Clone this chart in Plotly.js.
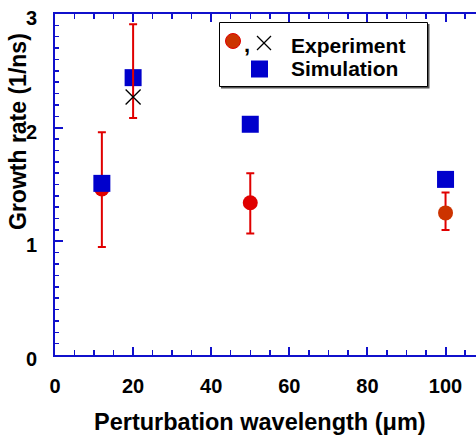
<!DOCTYPE html>
<html>
<head>
<meta charset="utf-8">
<script src="https://cdn.plot.ly/plotly-3.0.1.min.js"></script>
<style>html,body{margin:0;padding:0;background:#fff;}#chart{width:476px;height:444px;}</style>
</head>
<body>
<div id="chart"></div>
<script>
// Experiment (circles)
const expX = [12, 50, 100];
const expY = [1.46, 1.34, 1.25];
const expErrPlus = [0.50, 0.26, 0.18];
const expErrMinus = [0.51, 0.27, 0.15];
const expColors = ['#e00000', '#e00000', '#cc3300'];
// Experiment (cross)
const crossX = [20];
const crossY = [2.27];
const crossErrPlus = [0.64];
const crossErrMinus = [0.185];
// Simulation (squares)
const simX = [12, 20, 50, 100];
const simY = [1.51, 2.44, 2.03, 1.545];
// Axis ticks
const xTicks = [0, 20, 40, 60, 80, 100];
const yTicks = [0, 1, 2, 3];

const axisColor = '#1010cc';
const FONT = 'Liberation Sans, Arial, sans-serif';

const L = 55, T = 14, W = 476, H = 444, B = 89;
const plotW = W - L, plotH = H - T - B;
const px = v => (v - L) / plotW;
const py = v => (H - B - v) / plotH;

const traces = [
  {
    x: expX, y: expY, type: 'scatter', mode: 'markers', showlegend: false,
    marker: {symbol: 'circle', size: 15, color: expColors, line: {width: 0}},
    error_y: {type: 'data', symmetric: false, array: expErrPlus, arrayminus: expErrMinus,
      color: '#e00000', thickness: 2, width: 4}
  },
  {
    x: simX, y: simY, type: 'scatter', mode: 'markers', showlegend: false,
    marker: {symbol: 'square', size: 17, color: '#0000cc', line: {width: 0}}
  },
  {
    x: crossX, y: crossY, type: 'scatter', mode: 'markers', showlegend: false,
    marker: {symbol: 'x-thin', size: 15, color: '#000', line: {width: 1.3, color: '#000'}},
    error_y: {type: 'data', symmetric: false, array: crossErrPlus, arrayminus: crossErrMinus,
      color: '#e00000', thickness: 2, width: 4}
  }
];

const shapes = [
  // legend shadow + box
  {type: 'rect', xref: 'paper', yref: 'paper', x0: px(221), x1: px(429.5), y0: py(88.5), y1: py(24),
    fillcolor: '#555', line: {width: 0}},
  {type: 'rect', xref: 'paper', yref: 'paper', x0: px(219.5), x1: px(427.5), y0: py(86.5), y1: py(22.5),
    fillcolor: '#fff', line: {color: '#000', width: 1}},
  // legend circle
  {type: 'circle', xref: 'paper', yref: 'paper', x0: px(225.5), x1: px(240.5), y0: py(48.5), y1: py(33.5),
    fillcolor: '#cc3300', line: {color: '#e00000', width: 1}},
  // legend X
  {type: 'line', xref: 'paper', yref: 'paper', x0: px(257), x1: px(271), y0: py(36), y1: py(50),
    line: {color: '#000', width: 1.3}},
  {type: 'line', xref: 'paper', yref: 'paper', x0: px(257), x1: px(271), y0: py(50), y1: py(36),
    line: {color: '#000', width: 1.3}},
  // legend square
  {type: 'rect', xref: 'paper', yref: 'paper', x0: px(251), x1: px(268), y0: py(77.5), y1: py(60.5),
    fillcolor: '#0000cc', line: {width: 0}}
];

const annotations = [
  {text: '<b>,</b>', xref: 'paper', yref: 'paper', x: px(247), y: py(44), xanchor: 'center', yanchor: 'middle',
    showarrow: false, font: {family: FONT, size: 22, color: '#000'}},
  {text: '<b>Experiment</b>', xref: 'paper', yref: 'paper', x: px(289), y: py(45), xanchor: 'left', yanchor: 'middle',
    showarrow: false, font: {family: FONT, size: 21, color: '#000'}},
  {text: '<b>Simulation</b>', xref: 'paper', yref: 'paper', x: px(289), y: py(69), xanchor: 'left', yanchor: 'middle',
    showarrow: false, font: {family: FONT, size: 21, color: '#000'}},
  {text: '<b>Perturbation wavelength (μm)</b>', xref: 'paper', yref: 'paper', x: px(260), y: py(422),
    xanchor: 'center', yanchor: 'middle', showarrow: false, font: {family: FONT, size: 23.5, color: '#000'}},
  {text: '<b>Growth rate (1/ns)</b>', xref: 'paper', yref: 'paper', x: px(18), y: py(132), textangle: -90,
    xanchor: 'center', yanchor: 'middle', showarrow: false, font: {family: FONT, size: 23, color: '#000'}}
];

const layout = {
  width: W, height: H,
  margin: {l: L, r: 0, t: T, b: B, pad: 0},
  paper_bgcolor: '#fff', plot_bgcolor: '#fff',
  showlegend: false,
  font: {family: FONT, color: '#000'},
  xaxis: {
    range: [0, 107.8], autorange: false, fixedrange: true,
    tickvals: xTicks, ticktext: xTicks.map(v => '<b>' + v + '</b>'),
    ticks: 'inside', ticklen: 8, tickwidth: 2, tickcolor: axisColor,
    showline: true, linecolor: axisColor, linewidth: 2, mirror: 'ticks',
    showgrid: false, zeroline: false,
    tickfont: {family: FONT, size: 20, color: '#000'},
    ticklabelstandoff: 12,
    minor: {dtick: 5, tick0: 0, ticks: 'inside', ticklen: 5, tickwidth: 1.5, tickcolor: axisColor, showgrid: false}
  },
  yaxis: {
    range: [0, 3], autorange: false, fixedrange: true,
    tickvals: yTicks, ticktext: yTicks.map(v => '<b>' + v + '</b>'),
    ticks: 'inside', ticklen: 8, tickwidth: 2, tickcolor: axisColor,
    showline: true, linecolor: axisColor, linewidth: 2, mirror: false,
    showgrid: false, zeroline: false,
    tickfont: {family: FONT, size: 20, color: '#000'},
    ticklabelstandoff: 12, ticklabelshift: 4,
    ticklabeloverflow: 'allow',
    minor: {dtick: 0.1, tick0: 0, ticks: 'inside', ticklen: 4, tickwidth: 1.5, tickcolor: axisColor, showgrid: false}
  },
  shapes: shapes,
  annotations: annotations
};

Plotly.newPlot('chart', traces, layout, {displayModeBar: false, staticPlot: true});
</script>
</body>
</html>
